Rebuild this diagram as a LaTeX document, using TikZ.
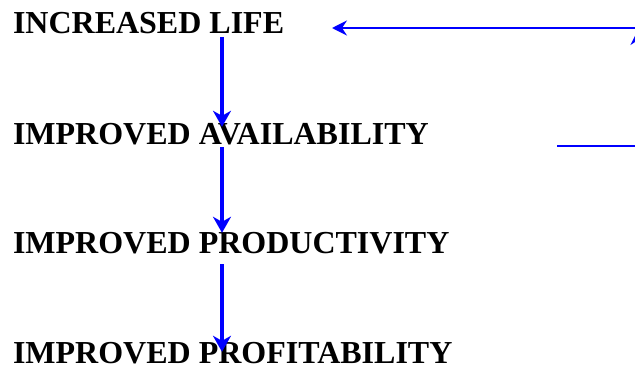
\documentclass[tikz,border=0pt]{standalone}
\usepackage{fontspec}
\setmainfont{Liberation Serif}
\usetikzlibrary{arrows.meta,calc}
\definecolor{arrowblue}{RGB}{0,0,255}
\begin{document}
\begin{tikzpicture}[x=1pt,y=-1pt,
  label/.style={anchor=base west,inner sep=0pt,outer sep=0pt,
    font=\fontsize{32}{34}\selectfont\bfseries},
  flow/.style={draw=arrowblue,line width=3.2pt,
    -{Stealth[length=16pt,width=18pt,inset=5pt,color=arrowblue]}},
  fb/.style={draw=arrowblue,line width=2pt},
  fbarrow/.style={fb,-{Stealth[length=15pt,width=15pt,inset=5pt,color=arrowblue]}}]
\clip (0,0) rectangle (635,367);
\node[label] (life) at (13,33) {INCREASED LIFE};
\node[label] (avail) at (13,144) {IMPROVED AVAILABILITY};
\node[label] (prod) at (13,253) {IMPROVED PRODUCTIVITY};
\node[label] (profit) at (13,363) {IMPROVED PROFITABILITY};
\coordinate (axis) at (222,0);
\coordinate (fbright) at (680,28);
\coordinate (fbleft) at (332,28);
\coordinate (fbstart) at (557,146);
\coordinate (fbcorner) at (638,146);
\coordinate (fbtip) at (638,30);
\draw[flow,shorten <=4pt,shorten >=-4pt] (life.south -| axis) -- (avail.north -| axis);
\draw[flow,shorten <=3pt,shorten >=-1pt] (avail.south -| axis) -- (prod.north -| axis);
\draw[flow,shorten <=11pt,shorten >=-10pt] (prod.south -| axis) -- (profit.north -| axis);
\draw[fbarrow] (fbright) -- (fbleft);
\draw[fbarrow] (fbstart) -- (fbcorner) -- (fbtip);
\end{tikzpicture}
\end{document}
